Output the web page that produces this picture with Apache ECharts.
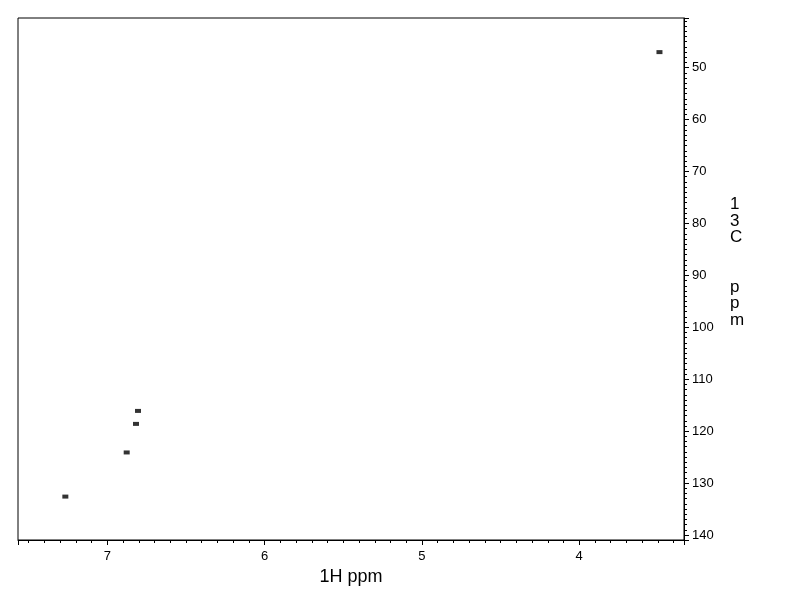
<!DOCTYPE html>
<html>
<head>
<meta charset="utf-8">
<script src="https://cdn.jsdelivr.net/npm/echarts@6/dist/echarts.min.js"></script>
<style>
html,body{margin:0;padding:0;background:#fff;}
#chart{width:792px;height:612px;}
</style>
</head>
<body>
<div id="chart"></div>
<script>
// 1H chemical shift (ppm) of each cross peak
const protonPpm = [3.49, 6.805, 6.818, 6.877, 7.267];
// 13C chemical shift (ppm) of each cross peak
const carbonPpm = [47.0, 116.1, 118.6, 124.1, 132.6];
// axis ranges (ppm)
const xRange = [3.334, 7.568];
const yRange = [40.43, 140.96];
const xTitle = '1H ppm';
const yTitle = '13C ppm';

const points = protonPpm.map((x, i) => [x, carbonPpm[i]]);
const font = 'Liberation Sans, Arial, sans-serif';
const intOnly = v => Math.abs(v - Math.round(v)) < 1e-6 ? String(Math.round(v)) : '';
// stacked vertical title: one character per line, wider gap for the space, trailing lines lift the block
const yTitleStacked = yTitle.split('').map(c => c === ' ' ? '\n' : c).join('\n') + '\n\n';

const chart = echarts.init(document.getElementById('chart'));
chart.setOption({
  backgroundColor: '#ffffff',
  animation: false,
  grid: {
    left: 18, right: 108, top: 18, bottom: 72,
    show: true, borderColor: '#000', borderWidth: 1, backgroundColor: 'transparent'
  },
  xAxis: {
    type: 'value', inverse: true, min: xRange[0], max: xRange[1], splitNumber: 4,
    name: xTitle, nameLocation: 'middle', nameGap: 28,
    nameTextStyle: { color: '#000', fontSize: 18, fontFamily: font },
    axisLine: { show: true, lineStyle: { color: '#000', width: 1 } },
    axisTick: { show: true, length: 5, lineStyle: { color: '#000' } },
    minorTick: { show: true, splitNumber: 10, length: 3, lineStyle: { color: '#000' } },
    splitLine: { show: false },
    axisLabel: { color: '#000', fontSize: 13, fontFamily: font, margin: 10, formatter: intOnly,
                 showMinLabel: false, showMaxLabel: false }
  },
  yAxis: {
    type: 'value', position: 'right', inverse: true, min: yRange[0], max: yRange[1], splitNumber: 10,
    name: yTitleStacked, nameLocation: 'middle', nameGap: 46, nameRotate: 0,
    nameTextStyle: { color: '#000', fontSize: 17, fontFamily: font, lineHeight: 16.5, align: 'left' },
    axisLine: { show: true, lineStyle: { color: '#000', width: 1 } },
    axisTick: { show: true, length: 5, lineStyle: { color: '#000' } },
    minorTick: { show: true, splitNumber: 10, length: 3, lineStyle: { color: '#000' } },
    splitLine: { show: false },
    axisLabel: { color: '#000', fontSize: 13, fontFamily: font, margin: 8, formatter: intOnly,
                 showMinLabel: false, showMaxLabel: false }
  },
  series: [{
    type: 'scatter',
    data: points,
    symbol: 'rect',
    symbolSize: [6, 4],
    itemStyle: { color: '#000' }
  }]
});
</script>
</body>
</html>
